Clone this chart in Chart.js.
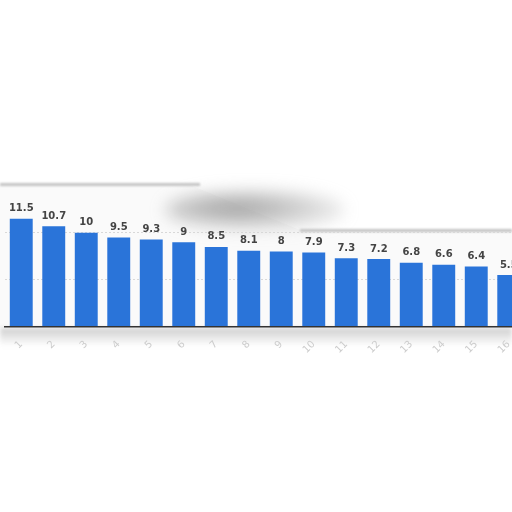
<!DOCTYPE html>
<html>
<head>
<meta charset="utf-8">
<script src="https://cdn.jsdelivr.net/npm/chart.js@4.4.1/dist/chart.umd.min.js"></script>
<style>
html,body{margin:0;padding:0;width:512px;height:512px;overflow:hidden;background:#fff;}
#wrap{position:relative;width:512px;height:512px;overflow:hidden;}
.deco{position:absolute;pointer-events:none;}
#panel{left:0;top:0;width:512px;height:512px;background:#fafafa;
 clip-path:polygon(0 185px,190px 185px,300px 230px,512px 230px,512px 328px,0 328px);}
#edgeL{left:0;top:183px;width:200px;height:3px;background:#c4c4c4;filter:blur(1px);}
#edgeR{left:300px;top:229px;width:212px;height:3px;background:#c4c4c4;filter:blur(1px);}
#blob{left:165px;top:190px;width:180px;height:40px;border-radius:50%;
 background:radial-gradient(ellipse at 40% 45%,rgba(110,110,110,0.65),rgba(160,160,160,0.3) 60%,rgba(255,255,255,0) 100%);filter:blur(8px);}
#under{left:0;top:328px;width:512px;height:18px;
 background:linear-gradient(#cfcfcf,rgba(255,255,255,0));filter:blur(2px);}
#c{position:absolute;left:0;top:0;}
</style>
</head>
<body>
<div id="wrap">
 <div class="deco" id="panel"></div>
 <div class="deco" id="blob"></div>
 <div class="deco" id="edgeL"></div>
 <div class="deco" id="edgeR"></div>
 <div class="deco" id="under"></div>
 <canvas id="c" width="530" height="512" style="width:530px;height:512px"></canvas>
</div>
<script>
const categories = ["1","2","3","4","5","6","7","8","9","10","11","12","13","14","15","16"];
const values = [11.5,10.7,10,9.5,9.3,9,8.5,8.1,8,7.9,7.3,7.2,6.8,6.6,6.4,5.5];
const yTicks = [0,5,10,15];

const valueLabels = {
  id:'valueLabels',
  afterDatasetsDraw(chart){
    const ctx = chart.ctx;
    const meta = chart.getDatasetMeta(0);
    ctx.save();
    ctx.font = 'bold 10px "DejaVu Sans", sans-serif';
    ctx.fillStyle = '#444';
    ctx.textAlign = 'center';
    ctx.textBaseline = 'bottom';
    meta.data.forEach((bar,i)=>{
      ctx.fillText(String(values[i]), bar.x, bar.y - 5);
    });
    ctx.restore();
  }
};

new Chart(document.getElementById('c'),{
  type:'bar',
  data:{labels:categories,datasets:[{data:values,backgroundColor:'#2a74d9',borderWidth:0,
    categoryPercentage:0.85,barPercentage:0.83}]},
  options:{
    responsive:false,animation:false,
    layout:{padding:{left:5,right:5,top:186,bottom:152}},
    plugins:{legend:{display:false},tooltip:{enabled:false}},
    scales:{
      x:{grid:{display:false},
         border:{display:true,color:'#333',width:1.5},
         ticks:{color:'#cccccc',font:{size:10,family:'DejaVu Sans'},minRotation:45,maxRotation:45,padding:4}},
      y:{min:0,max:15,
         afterBuildTicks(ax){ax.ticks = yTicks.map(v=>({value:v}));},
         ticks:{display:false},
         grid:{drawTicks:false,color:(c)=>(c.tick.value===5||c.tick.value===10)?'#d8d8d8':'rgba(0,0,0,0)',lineWidth:1},
         border:{display:false,dash:[2,2]}}
    }
  },
  plugins:[valueLabels]
});
</script>
</body>
</html>
